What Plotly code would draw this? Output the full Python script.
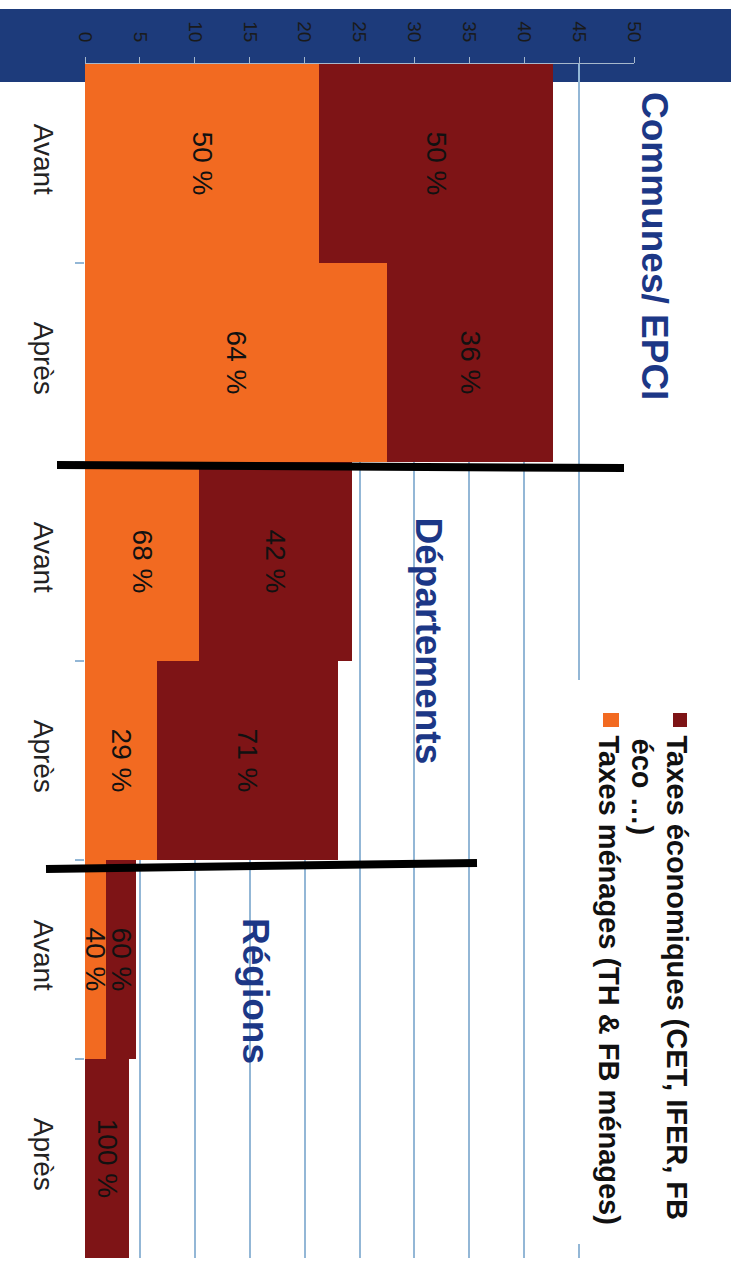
import plotly.graph_objects as go

# ---- data ----
categories = ["Avant", "Après", "Avant", "Après", "Avant", "Après"]
groups = ["Communes/ EPCI", "Départements", "Régions"]
menages_values = [21.3, 27.5, 10.4, 6.6, 1.9, 0.0]       # Taxes ménages (orange)
eco_values = [21.3, 15.1, 13.9, 16.4, 2.75, 4.0]          # Taxes économiques (dark red), stacked
menages_labels = ["50 %", "64 %", "68 %", "29 %", "40 %", ""]
eco_labels = ["50 %", "36 %", "42 %", "71 %", "60 %", "100 %"]
legend_eco = ["Taxes économiques (CET, IFER, FB", "éco …)"]
legend_menages = "Taxes ménages (TH & FB ménages)"
x_ticks = list(range(0, 55, 5))

ORANGE = "#F26A21"
DARKRED = "#7E1416"
NAVY = "#1D3B7B"
TITLE_BLUE = "#1C3786"
GRID = "#93B7D6"
FONT = "Liberation Sans, Arial, sans-serif"

W, H = 731, 1261
X0, X1 = 85, 634     # plot area left/right in px
Y0, Y1 = 64, 1258    # plot area top/bottom in px


def px(xp):
    return (xp - X0) / (X1 - X0)


def py(yp):
    return 1 - (yp - Y0) / (Y1 - Y0)


pos = list(range(len(categories)))

fig = go.Figure()
fig.add_trace(go.Bar(
    y=pos, x=menages_values, orientation="h", name="Taxes ménages (TH & FB ménages)",
    marker=dict(color=ORANGE, line=dict(width=0)),
    text=menages_labels, textposition="inside", insidetextanchor="middle",
    textangle=90, constraintext="none",
    insidetextfont=dict(family=FONT, size=28, color="#111111"),
))
fig.add_trace(go.Bar(
    y=pos, x=eco_values, orientation="h", name="Taxes économiques",
    marker=dict(color=DARKRED, line=dict(width=0)),
    text=eco_labels, textposition="inside", insidetextanchor="middle",
    textangle=90, constraintext="none",
    insidetextfont=dict(family=FONT, size=28, color="#111111"),
))

shapes = [
    # blue header band
    dict(type="rect", xref="paper", yref="paper", x0=px(0), x1=px(W), y0=py(82), y1=py(9),
         fillcolor=NAVY, line=dict(width=0), layer="below"),
    # white legend box hiding gridlines
    dict(type="rect", xref="paper", yref="paper", x0=px(548), x1=px(W), y0=py(1244), y1=py(680),
         fillcolor="white", line=dict(width=0), layer="above"),
    # legend squares
    dict(type="rect", xref="paper", yref="paper", x0=px(673), x1=px(687), y0=py(727), y1=py(713),
         fillcolor=DARKRED, line=dict(width=0), layer="above"),
    dict(type="rect", xref="paper", yref="paper", x0=px(603), x1=px(619), y0=py(727), y1=py(713),
         fillcolor=ORANGE, line=dict(width=0), layer="above"),
    # black separators
    dict(type="line", xref="paper", yref="paper", x0=px(57), x1=px(624), y0=py(465), y1=py(468),
         line=dict(color="black", width=8), layer="above"),
    dict(type="line", xref="paper", yref="paper", x0=px(46), x1=px(477), y0=py(869), y1=py(863),
         line=dict(color="black", width=8), layer="above"),
]

annotations = []
# group titles
for text, xc, ytop in zip(groups, [655, 428, 256], [90, 515, 916]):
    annotations.append(dict(
        text=text, xref="paper", yref="paper", x=px(xc), y=py(ytop),
        xanchor="center", yanchor="top", textangle=90, showarrow=False,
        font=dict(family=FONT, size=37, color=TITLE_BLUE, weight="bold"),
    ))
# legend text
for text, xc, ytop in [(legend_eco[0], 677, 733), (legend_eco[1], 642, 736), (legend_menages, 609, 733)]:
    annotations.append(dict(
        text=text, xref="paper", yref="paper", x=px(xc), y=py(ytop),
        xanchor="center", yanchor="top", textangle=90, showarrow=False,
        font=dict(family=FONT, size=29, color="#111111", weight="bold"),
    ))

fig.update_layout(
    width=W, height=H,
    margin=dict(l=X0, r=W - X1, t=Y0, b=H - Y1, pad=0, autoexpand=False),
    barmode="stack", bargap=0,
    showlegend=False,
    paper_bgcolor="white", plot_bgcolor="white",
    shapes=shapes, annotations=annotations,
    font=dict(family=FONT),
    xaxis=dict(
        side="top", range=[0, 50], tickmode="array", tickvals=x_ticks,
        tickangle=90, tickfont=dict(family=FONT, size=19, color="#1A1A1A"),
        ticks="outside", ticklen=6, tickcolor="#A7B8CC", tickwidth=1,
        showgrid=True, gridcolor=GRID, gridwidth=1.5,
        showline=True, linecolor="#A7B8CC", linewidth=1,
        zeroline=False, automargin=False, ticklabelstandoff=8,
    ),
    yaxis=dict(
        range=[len(categories) - 0.5, -0.5], tickmode="array", tickvals=pos, ticktext=categories,
        tickangle=90, tickfont=dict(family=FONT, size=28, color="#222222"),
        ticks="", showgrid=False, zeroline=False, showline=False, automargin=False,
        ticklabelstandoff=22,
        minor=dict(tickmode="array", tickvals=[p + 0.5 for p in pos[:-1]],
                   ticks="outside", ticklen=9, tickcolor=GRID, tickwidth=1.5, showgrid=False),
    ),
)

fig.write_html("out.html", config={"displayModeBar": False},
               post_script="document.body.style.margin='0';")
